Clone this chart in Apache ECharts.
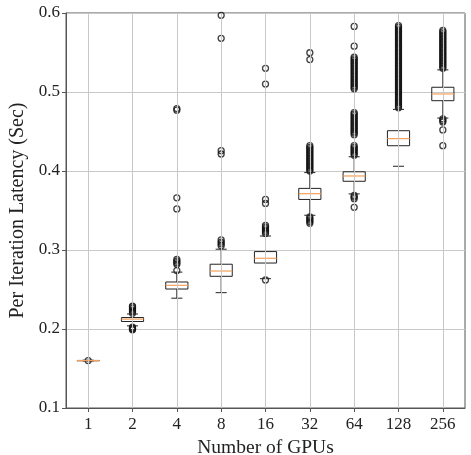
<!DOCTYPE html>
<html><head><meta charset="utf-8">
<script src="https://cdn.jsdelivr.net/npm/echarts@6/dist/echarts.min.js"></script>
<style>html,body{margin:0;padding:0;background:#fff}#c{width:471px;height:455px}</style>
</head><body><div id="c"></div>
<script>
var categories = ['1','2','4','8','16','32','64','128','256'];
var yTicks = [0.1, 0.2, 0.3, 0.4, 0.5, 0.6];
// [lower whisker, Q1, median, Q3, upper whisker]
var boxStats = [
  [0.1595, 0.1598, 0.1600, 0.1602, 0.1605],
  [0.2040, 0.2095, 0.2125, 0.2145, 0.2190],
  [0.2390, 0.2506, 0.2553, 0.2595, 0.2720],
  [0.2460, 0.2667, 0.2734, 0.2820, 0.3010],
  [0.2637, 0.2835, 0.2895, 0.2980, 0.3177],
  [0.3440, 0.3640, 0.3713, 0.3780, 0.3980],
  [0.3710, 0.3870, 0.3937, 0.3990, 0.4180],
  [0.4060, 0.4320, 0.4410, 0.4510, 0.4780],
  [0.4670, 0.4890, 0.4975, 0.5060, 0.5280]
];
var out1 = [0.160];
var out2 = [0.199, 0.200, 0.201, 0.2025, 0.220, 0.222, 0.224, 0.226, 0.228, 0.229];
var out4 = [0.274, 0.282, 0.284, 0.286, 0.288, 0.352, 0.366, 0.477, 0.479];
var out8 = [0.3055, 0.308, 0.310, 0.3127, 0.4215, 0.4257, 0.568, 0.597];
var out16 = [0.262, 0.321, 0.323, 0.325, 0.327, 0.329, 0.331, 0.359, 0.364, 0.510, 0.530];
var out32 = [0.334, 0.336, 0.338, 0.340, 0.342,
  0.400, 0.402, 0.404, 0.406, 0.408, 0.410, 0.412, 0.414, 0.416, 0.418, 0.420,
  0.422, 0.424, 0.426, 0.428, 0.430, 0.432, 0.541, 0.5497];
var out64 = [0.354, 0.365, 0.367, 0.369,
  0.420, 0.422, 0.424, 0.426, 0.428, 0.430, 0.432,
  0.446, 0.448, 0.450, 0.452, 0.454, 0.456, 0.458, 0.460, 0.462, 0.464, 0.466, 0.468, 0.470, 0.472, 0.474,
  0.504, 0.506, 0.508, 0.510, 0.512, 0.514, 0.516, 0.518, 0.520, 0.522, 0.524, 0.526, 0.528, 0.530,
  0.532, 0.534, 0.536, 0.538, 0.540, 0.542, 0.544, 0.558, 0.583];
var out128 = [0.480, 0.482, 0.484, 0.486, 0.488, 0.490, 0.492, 0.494, 0.496, 0.498,
  0.500, 0.502, 0.504, 0.506, 0.508, 0.510, 0.512, 0.514, 0.516, 0.518,
  0.520, 0.522, 0.524, 0.526, 0.528, 0.530, 0.532, 0.534, 0.536, 0.538,
  0.540, 0.542, 0.544, 0.546, 0.548, 0.550, 0.552, 0.554, 0.556, 0.558,
  0.560, 0.562, 0.564, 0.566, 0.568, 0.570, 0.572, 0.574, 0.576, 0.578,
  0.580, 0.582, 0.584];
var out256 = [0.432, 0.452, 0.462, 0.464, 0.466,
  0.530, 0.532, 0.534, 0.536, 0.538, 0.540, 0.542, 0.544, 0.546, 0.548,
  0.550, 0.552, 0.554, 0.556, 0.558, 0.560, 0.562, 0.564, 0.566, 0.568,
  0.570, 0.572, 0.574, 0.576, 0.578];
var outliers = [out1, out2, out4, out8, out16, out32, out64, out128, out256];

var boxData = boxStats.map(function (s, i) { return [i].concat(s); });
var outData = [];
outliers.forEach(function (arr, i) { arr.forEach(function (v) { outData.push([i, v]); }); });

var FONT = 'Liberation Serif';
var chart = echarts.init(document.getElementById('c'), null, {renderer: 'canvas'});
chart.setOption({
  animation: false,
  backgroundColor: '#fff',
  grid: {left: 66, right: 6, top: 13, bottom: 47, containLabel: false, outerBoundsMode: 'none',
    show: true, borderColor: '#555', borderWidth: 1},
  xAxis: {
    type: 'category', data: categories, boundaryGap: true,
    name: 'Number of GPUs', nameLocation: 'middle', nameGap: 23,
    nameTextStyle: {fontFamily: FONT, fontSize: 19.5, color: '#222'},
    axisLine: {show: true, lineStyle: {color: '#555', width: 1}},
    axisTick: {show: true, inside: false, length: 4, alignWithLabel: true, lineStyle: {color: '#555'}},
    axisLabel: {fontFamily: FONT, fontSize: 17, color: '#222', margin: 8},
    splitLine: {show: false}
  },
  yAxis: {
    type: 'value', min: yTicks[0], max: yTicks[yTicks.length - 1], interval: 0.1,
    name: 'Per Iteration Latency (Sec)', nameLocation: 'middle', nameGap: 32,
    nameTextStyle: {fontFamily: FONT, fontSize: 20, color: '#222'},
    axisLine: {show: true, lineStyle: {color: '#555', width: 1}},
    axisTick: {show: true, inside: false, length: 4, lineStyle: {color: '#555'}},
    axisLabel: {fontFamily: FONT, fontSize: 17, color: '#222', margin: 6,
      formatter: function (v) { return v.toFixed(1); }},
    splitLine: {show: true, lineStyle: {color: '#c8c8c8', width: 1}}
  },
  series: [
    {
      type: 'scatter', z: 1, data: outData, symbol: 'circle', symbolSize: 6,
      itemStyle: {color: 'rgba(0,0,0,0)', borderColor: '#111', borderWidth: 1.3},
      markLine: {
        silent: true, symbol: 'none', label: {show: false},
        lineStyle: {color: '#c8c8c8', width: 1, type: 'solid'},
        data: categories.map(function (c) { return {xAxis: c}; })
      }
    },
    {
      type: 'custom', z: 3, data: boxData,
      encode: {x: 0, y: [1, 2, 3, 4, 5]},
      renderItem: function (params, api) {
        var x = api.value(0);
        var lo = api.coord([x, api.value(1)]);
        var q1 = api.coord([x, api.value(2)]);
        var md = api.coord([x, api.value(3)]);
        var q3 = api.coord([x, api.value(4)]);
        var hi = api.coord([x, api.value(5)]);
        var bw = api.size([1, 0])[0];
        var hw = bw * 0.25, cw = bw * 0.125, cx = lo[0];
        var ls = {stroke: '#222', lineWidth: 1};
        return {type: 'group', children: [
          {type: 'line', shape: {x1: cx, y1: hi[1], x2: cx, y2: q3[1]}, style: ls},
          {type: 'line', shape: {x1: cx, y1: q1[1], x2: cx, y2: lo[1]}, style: ls},
          {type: 'line', shape: {x1: cx - cw, y1: hi[1], x2: cx + cw, y2: hi[1]}, style: ls},
          {type: 'line', shape: {x1: cx - cw, y1: lo[1], x2: cx + cw, y2: lo[1]}, style: ls},
          {type: 'rect', shape: {x: cx - hw, y: q3[1], width: 2 * hw, height: q1[1] - q3[1]},
            style: {fill: 'none', stroke: '#222', lineWidth: 1}},
          {type: 'line', shape: {x1: cx - hw, y1: md[1], x2: cx + hw, y2: md[1]},
            style: {stroke: '#f5a05a', lineWidth: 1.2}}
        ]};
      }
    }
  ]
});
</script></body></html>
